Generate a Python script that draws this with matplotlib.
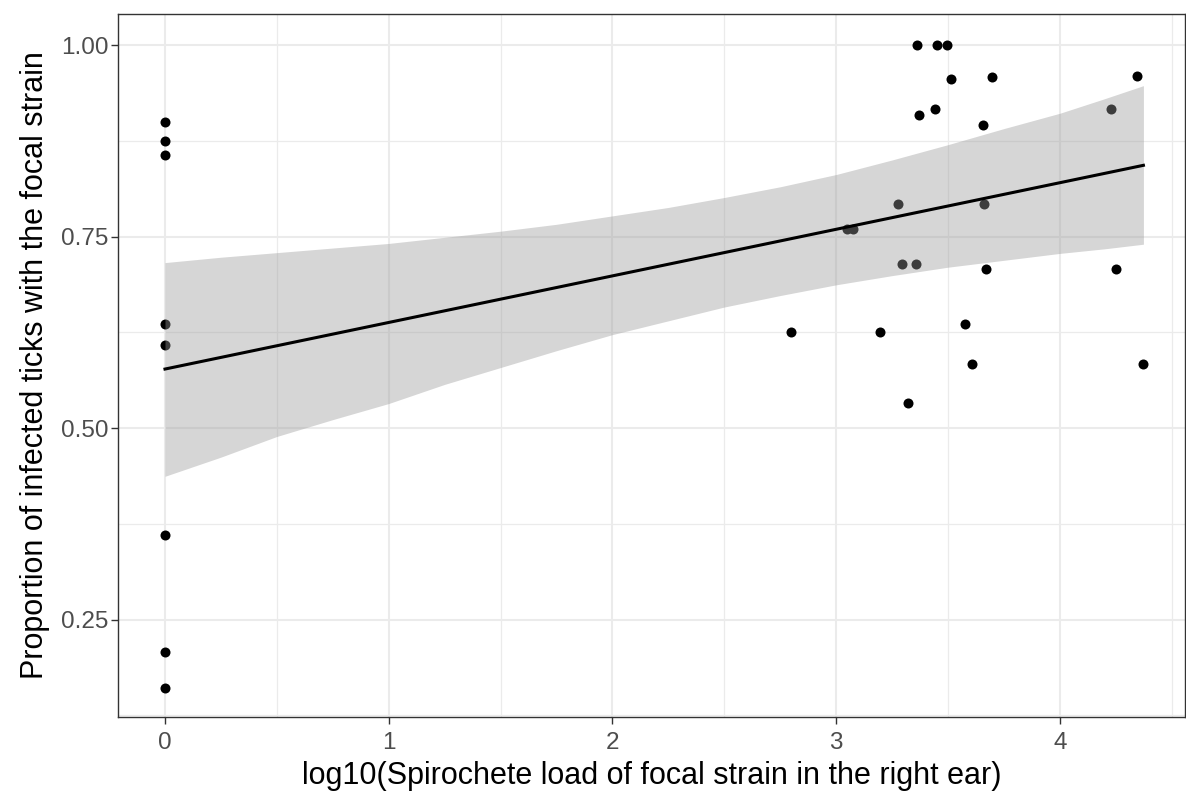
import matplotlib
matplotlib.use("Agg")
import matplotlib.pyplot as plt
from matplotlib.ticker import MultipleLocator

# log10 spirochete load (x) and proportion of infected ticks (y), one pair per mouse
load_zero = [0, 0, 0, 0, 0, 0, 0, 0]
prop_zero = [0.900, 0.875, 0.857, 0.636, 0.609, 0.360, 0.208, 0.160]

load_pos = [3.359, 3.451, 3.496, 3.515, 3.696, 3.441, 3.369, 3.656,
            3.276, 3.662, 3.047, 3.074, 3.294, 3.356, 3.668, 2.798,
            3.197, 3.576, 3.608, 3.322, 4.343, 4.228, 4.249, 4.373]
prop_pos = [1.000, 1.000, 1.000, 0.956, 0.958, 0.917, 0.909, 0.895,
            0.792, 0.792, 0.760, 0.760, 0.714, 0.714, 0.708, 0.625,
            0.625, 0.636, 0.583, 0.533, 0.960, 0.917, 0.708, 0.583]

# fitted trend and its 95% confidence band
fit_x = [0, 4.373]
fit_y = [0.577, 0.843]
band_x = [0, 0.25, 0.5, 0.75, 1.0, 1.25, 1.5, 1.75, 2.0, 2.25,
          2.5, 2.75, 3.0, 3.25, 3.5, 3.75, 4.0, 4.2, 4.373]
band_lo = [0.437, 0.462, 0.489, 0.511, 0.532, 0.557, 0.579, 0.601, 0.622, 0.640,
           0.658, 0.673, 0.687, 0.699, 0.710, 0.719, 0.728, 0.734, 0.740]
band_hi = [0.716, 0.723, 0.729, 0.735, 0.741, 0.749, 0.757, 0.766, 0.777, 0.788,
           0.801, 0.815, 0.831, 0.850, 0.870, 0.891, 0.911, 0.930, 0.947]

x_label = "log10(Spirochete load of focal strain in the right ear)"
y_label = "Proportion of infected ticks with the focal strain"

plt.rcParams['font.family'] = ['Liberation Sans', 'DejaVu Sans']

fig = plt.figure(figsize=(11.86, 7.93), dpi=100)
ax = fig.add_axes([0.0995, 0.0958, 0.8995, 0.8865])

xs = load_zero + load_pos
ys = prop_zero + prop_pos
ax.scatter(xs, ys, s=52, color='black', linewidths=0, zorder=3)

# ribbon drawn over the points, like geom_smooth
ax.fill_between(band_x, band_lo, band_hi, color='#999999', alpha=0.4,
                linewidth=0, zorder=4)
ax.plot(fit_x, fit_y, color='black', linewidth=2.2, zorder=5)

ax.set_xlim(-0.21, 4.558)
ax.set_ylim(0.1227, 1.0405)

ax.xaxis.set_major_locator(MultipleLocator(1))
ax.xaxis.set_minor_locator(MultipleLocator(0.5))
ax.yaxis.set_major_locator(MultipleLocator(0.25))
ax.yaxis.set_minor_locator(MultipleLocator(0.125))
ax.set_yticks([0.25, 0.50, 0.75, 1.00])
ax.set_yticklabels(["0.25", "0.50", "0.75", "1.00"])

ax.grid(which='major', color='#EBEBEB', linewidth=1.5, zorder=0)
ax.grid(which='minor', color='#EBEBEB', linewidth=0.9, zorder=0)
ax.set_axisbelow(True)

for side in ax.spines.values():
    side.set_color('#333333')
    side.set_linewidth(1.0)

ax.tick_params(which='major', length=5, width=1.0, color='#333333',
               labelsize=17.5, labelcolor='#4D4D4D')
ax.tick_params(axis='x', which='major', pad=6)
ax.tick_params(axis='y', which='major', pad=2)
ax.tick_params(which='minor', length=0)

ax.set_xlabel(x_label, fontsize=22, color='black', labelpad=5)
ax.set_ylabel(y_label, fontsize=22, color='black', labelpad=8)

fig.savefig("out.png", dpi=100)
